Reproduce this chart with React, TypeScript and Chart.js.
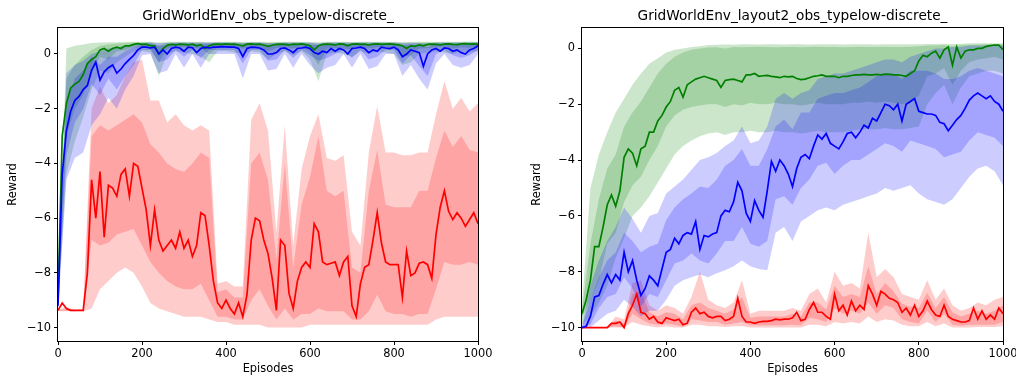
import React, { useEffect, useRef } from "react";
import { Chart, registerables } from "chart.js";

Chart.register(...registerables);
Chart.defaults.font.family = "'DejaVu Sans', sans-serif";
Chart.defaults.color = "#000";

// ---------- data ----------
const MEAN_STEP = 10; // episodes between mean samples
const BAND_STEP = 20; // episodes between band samples
const X_MIN = 0;
const X_MAX = 1000;
const X_TICK_STEP = 200;
const Y_TICK_STEP = 2;

const TITLE_LEFT = "GridWorldEnv_obs_typelow-discrete_";
const TITLE_RIGHT = "GridWorldEnv_layout2_obs_typelow-discrete_";
const X_LABEL = "Episodes";
const Y_LABEL = "Reward";

// Left panel: red series
const leftRedMean = [
  -9.37, -9.1, -9.3, -9.37, -9.37, -9.37, -9.37, -8.0, -4.6, -6.0,
  -4.3, -6.7, -4.8, -4.9, -5.2, -4.4, -4.2, -5.2, -4.0, -4.1,
  -4.9, -5.7, -7.0, -5.7, -6.8, -7.2, -7.0, -6.8, -7.1, -6.5,
  -7.1, -6.8, -7.4, -7.0, -5.8, -5.9, -7.0, -8.3, -9.1, -9.3,
  -9.0, -9.3, -9.5, -9.1, -9.6, -8.8, -6.8, -6.0, -6.1, -6.8,
  -7.3, -8.2, -9.37, -6.8, -7.0, -8.75, -9.3, -8.3, -7.8, -7.6,
  -7.8, -6.2, -6.5, -7.6, -7.7, -7.65, -7.6, -8.1, -7.6, -7.4,
  -9.2, -9.6, -8.4, -7.8, -7.7, -6.8, -5.8, -6.9, -7.6, -7.7,
  -7.7, -7.7, -8.9, -7.2, -8.1, -8.0, -7.65, -7.6, -7.7, -8.2,
  -6.6, -5.6, -5.0, -5.75, -6.05, -5.8, -6.0, -6.3, -6.05, -5.8,
  -6.2,
];
const leftRedOuterUpper = [
  -9.35, -9.25, -9.35, -9.35, -2.0, -1.2, -1.8, -1.5, -0.8, -0.3,
  -0.2, -1.7, -1.7, -2.5, -2.2, -2.6, -2.8, -2.6, -2.8, -8.4,
  -8.3, -8.5, -8.5, -2.4, -1.8, -2.8, -6.5, -2.6, -7.0, -4.2,
  -3.0, -2.2, -3.8, -3.9, -3.7, -6.5, -7.0, -3.6, -1.9, -3.6,
  -3.6, -3.7, -3.7, -3.6, -3.6, -2.2, -1.0, -2.0, -1.6, -2.1,
  -1.8,
];
const leftRedInnerUpper = [
  -9.36, -9.32, -9.36, -9.36, -3.0, -2.6, -2.8, -2.6, -2.4, -2.2,
  -2.5, -3.3, -3.6, -4.0, -4.2, -4.3, -4.0, -3.6, -3.8, -8.7,
  -8.6, -8.9, -8.9, -4.0, -3.6, -4.6, -7.5, -4.0, -7.8, -5.5,
  -4.5, -3.0, -5.0, -5.2, -5.0, -7.8, -8.0, -5.0, -3.5, -5.5,
  -5.6, -5.6, -5.6, -5.0, -5.0, -3.8, -2.8, -3.4, -3.0, -3.5,
  -3.6,
];
const leftRedInnerLower = [
  -9.38, -9.38, -9.38, -9.38, -6.8, -7.0, -6.9, -6.6, -6.5, -6.4,
  -7.0, -7.6, -8.0, -8.3, -8.5, -8.6, -8.6, -8.4, -9.0, -9.6,
  -9.6, -9.7, -9.7, -9.0, -8.6, -9.2, -9.7, -9.3, -9.7, -9.5,
  -9.5, -9.3, -9.4, -9.4, -9.4, -9.7, -9.7, -9.4, -8.8, -9.4,
  -9.5, -9.5, -9.6, -9.5, -9.5, -8.6, -7.6, -7.7, -7.7, -7.6,
  -7.7,
];
const leftRedOuterLower = [
  -9.4, -9.4, -9.4, -9.4, -9.3, -8.6, -8.3, -8.0, -7.8, -8.0,
  -8.5, -9.1, -9.3, -9.4, -9.5, -9.6, -9.6, -9.6, -9.7, -9.8,
  -9.8, -9.9, -9.9, -9.9, -9.9, -10.0, -10.0, -10.0, -10.0, -10.0,
  -9.9, -9.9, -9.9, -9.9, -9.9, -9.9, -9.9, -9.9, -9.9, -9.9,
  -9.9, -9.9, -9.9, -9.9, -9.9, -9.7, -9.6, -9.6, -9.6, -9.6,
  -9.6,
];

// Left panel: green series
const leftGreenMean = [
  -9.0, -3.0, -1.8, -1.25, -1.1, -1.0, -0.75, -0.35, -0.2, -0.1,
  0.15, 0.2, 0.1, 0.2, 0.25, 0.2, 0.3, 0.3, 0.35, 0.38,
  0.35, 0.36, 0.3, 0.3, 0.0, 0.2, 0.32, 0.35, 0.33, 0.36,
  0.35, 0.33, 0.36, 0.3, 0.34, 0.2, 0.3, 0.35, 0.36, 0.35,
  0.37, 0.35, 0.36, 0.33, 0.3, 0.36, 0.37, 0.35, 0.36, 0.33,
  0.28, 0.32, 0.35, 0.36, 0.35, 0.33, 0.36, 0.35, 0.37, 0.34,
  0.3, 0.15, 0.3, 0.35, 0.36, 0.35, 0.33, 0.37, 0.36, 0.3,
  0.36, 0.37, 0.35, 0.36, 0.33, 0.36, 0.37, 0.35, 0.36, 0.37,
  0.35, 0.33, 0.3, 0.2, 0.3, 0.28, 0.33, 0.3, 0.35, 0.36,
  0.35, 0.33, 0.36, 0.37, 0.35, 0.34, 0.37, 0.38, 0.36, 0.37,
  0.35,
];
const leftGreenOuterUpper = [
  -8.8, 0.2, 0.3, 0.35, 0.4, 0.42, 0.43, 0.43, 0.44, 0.45,
  0.45, 0.45, 0.42, 0.45, 0.45, 0.45, 0.44, 0.45, 0.44, 0.45,
  0.45, 0.45, 0.44, 0.45, 0.45, 0.44, 0.45, 0.45, 0.45, 0.45,
  0.44, 0.43, 0.45, 0.45, 0.45, 0.44, 0.45, 0.45, 0.45, 0.45,
  0.45, 0.44, 0.44, 0.45, 0.45, 0.45, 0.45, 0.45, 0.45, 0.46,
  0.45,
];
const leftGreenInnerUpper = [
  -8.9, -0.9, -0.4, -0.1, 0.15, 0.3, 0.35, 0.38, 0.4, 0.42,
  0.42, 0.42, 0.3, 0.42, 0.42, 0.42, 0.41, 0.42, 0.38, 0.42,
  0.42, 0.42, 0.41, 0.42, 0.42, 0.4, 0.42, 0.42, 0.42, 0.42,
  0.4, 0.35, 0.42, 0.42, 0.42, 0.41, 0.42, 0.42, 0.42, 0.42,
  0.42, 0.38, 0.38, 0.42, 0.42, 0.42, 0.42, 0.42, 0.42, 0.43,
  0.42,
];
const leftGreenInnerLower = [
  -9.1, -3.0, -2.0, -1.5, -0.6, -0.1, -0.2, 0.1, 0.15, 0.25,
  0.25, 0.2, -0.3, 0.2, 0.25, 0.25, 0.22, 0.2, 0.0, 0.25,
  0.25, 0.25, 0.2, 0.25, 0.25, 0.1, 0.22, 0.25, 0.2, 0.25,
  0.1, -0.4, 0.2, 0.22, 0.2, 0.15, 0.25, 0.2, 0.25, 0.25,
  0.22, -0.1, -0.05, 0.2, 0.22, 0.25, 0.25, 0.2, 0.25, 0.22,
  0.25,
];
const leftGreenOuterLower = [
  -9.3, -4.4, -3.2, -2.3, -1.3, -0.6, -0.7, -0.3, -0.1, 0.1,
  0.1, 0.05, -0.8, 0.0, 0.1, 0.05, 0.0, -0.1, -0.3, 0.1,
  0.1, 0.05, 0.0, 0.1, 0.05, -0.2, 0.0, 0.1, -0.05, 0.1,
  -0.2, -1.0, 0.0, 0.05, 0.0, -0.1, 0.1, 0.0, 0.1, 0.05,
  0.0, -0.4, -0.3, 0.0, 0.05, 0.1, 0.05, 0.0, 0.1, 0.05,
  0.1,
];

// Left panel: blue series
const leftBlueMean = [
  -9.2, -4.4, -2.8, -2.1, -1.7, -1.55, -1.3, -1.15, -0.6, -0.3,
  -0.95, -0.65, -0.5, -0.4, -0.7, -0.55, -0.35, -0.2, -0.05, 0.15,
  0.25, 0.25, 0.22, 0.25, 0.0, 0.15, 0.0, 0.2, 0.25, 0.22,
  0.1, 0.25, 0.23, 0.05, 0.2, 0.25, 0.22, 0.25, 0.25, 0.27,
  0.26, 0.25, 0.25, 0.2, -0.1, 0.2, 0.25, 0.24, 0.22, 0.15,
  0.0, 0.0, 0.05, 0.2, 0.22, 0.15, 0.05, 0.2, 0.22, 0.25,
  0.2, 0.05, 0.0, 0.1, 0.05, 0.2, 0.1, 0.2, 0.15, 0.0,
  0.2, 0.22, 0.25, 0.2, 0.05, 0.15, 0.1, 0.25, 0.22, 0.2,
  0.25, 0.15, -0.1, 0.0, 0.15, 0.1, 0.05, -0.45, 0.0, 0.15,
  0.2, 0.1, 0.22, 0.2, 0.1, 0.15, 0.05, 0.0, 0.15, 0.2,
  0.3,
];
const leftBlueOuterUpper = [
  -9.0, -0.7, -0.4, -0.25, 0.0, 0.1, 0.2, 0.25, 0.3, 0.35,
  0.4, 0.42, 0.4, 0.4, 0.42, 0.42, 0.42, 0.42, 0.42, 0.42,
  0.42, 0.42, 0.4, 0.42, 0.42, 0.4, 0.4, 0.42, 0.42, 0.42,
  0.42, 0.4, 0.42, 0.42, 0.42, 0.42, 0.42, 0.42, 0.42, 0.42,
  0.42, 0.4, 0.42, 0.4, 0.38, 0.42, 0.42, 0.42, 0.42, 0.42,
  0.44,
];
const leftBlueInnerUpper = [
  -9.1, -1.8, -0.9, -0.6, -0.1, -0.4, -0.1, -0.1, 0.1, 0.25,
  0.35, 0.38, 0.3, 0.32, 0.38, 0.36, 0.38, 0.35, 0.38, 0.38,
  0.38, 0.38, 0.3, 0.38, 0.38, 0.3, 0.32, 0.38, 0.35, 0.38,
  0.35, 0.32, 0.34, 0.36, 0.38, 0.35, 0.38, 0.34, 0.35, 0.38,
  0.38, 0.3, 0.36, 0.3, 0.25, 0.36, 0.38, 0.36, 0.35, 0.36,
  0.4,
];
const leftBlueInnerLower = [
  -9.3, -3.7, -2.5, -2.0, -1.1, -1.5, -0.9, -1.3, -0.8, -0.4,
  0.15, 0.15, -0.3, -0.2, 0.15, -0.1, 0.15, -0.15, 0.15, 0.15,
  0.15, 0.15, -0.35, 0.15, 0.15, -0.25, -0.2, 0.15, -0.15, 0.15,
  -0.05, -0.25, -0.15, 0.0, 0.15, -0.15, 0.15, -0.2, -0.1, 0.15,
  0.15, -0.35, -0.05, -0.45, -0.8, 0.0, 0.15, -0.05, -0.15, -0.05,
  0.15,
];
const leftBlueOuterLower = [
  -9.4, -4.6, -3.8, -3.6, -2.6, -2.2, -1.6, -2.0, -1.3, -0.8,
  -0.05, 0.0, -0.7, -0.6, 0.0, -0.5, 0.0, -0.5, 0.0, 0.0,
  0.0, 0.0, -0.9, 0.0, 0.0, -0.6, -0.55, 0.0, -0.5, 0.0,
  -0.4, -0.7, -0.5, -0.4, 0.0, -0.5, 0.0, -0.55, -0.45, 0.0,
  0.0, -0.8, -0.4, -0.9, -1.3, -0.35, 0.0, -0.4, -0.5, -0.4,
  0.0,
];

// Right panel: red series
const rightRedMean = [
  -10.0, -10.0, -10.0, -10.0, -10.0, -10.0, -10.0, -9.85, -9.85, -9.8,
  -10.0, -9.5, -9.2, -8.8, -9.45, -9.5, -9.7, -9.6, -9.8, -9.85,
  -9.65, -9.7, -9.75, -9.7, -9.9, -9.85, -9.45, -9.3, -9.5, -9.45,
  -9.6, -9.65, -9.6, -9.6, -9.75, -9.7, -9.6, -8.95, -9.6, -9.8,
  -9.8, -9.85, -9.8, -9.78, -9.78, -9.75, -9.7, -9.72, -9.7, -9.7,
  -9.65, -9.45, -9.75, -9.7, -9.35, -9.1, -9.45, -9.45, -9.6, -9.7,
  -8.8, -9.4, -9.2, -9.55, -9.05, -9.4, -9.2, -9.35, -8.5, -8.8,
  -9.2, -8.7, -8.8, -8.95, -9.0, -9.1, -9.45, -9.3, -9.55, -9.2,
  -9.6, -9.4, -9.05, -9.35, -9.55, -9.6, -9.2, -9.6, -9.7, -9.75,
  -9.8, -9.8, -9.75, -9.3, -9.7, -9.4, -9.7, -9.55, -9.7, -9.3,
  -9.5,
];
const rightRedOuterUpper = [
  -9.98, -9.98, -9.98, -9.98, -9.6, -9.7, -8.4, -8.3, -9.2, -9.4,
  -9.2, -9.3, -9.5, -8.9, -8.0, -9.0, -9.2, -9.3, -9.1, -8.3,
  -9.5, -9.4, -9.4, -9.4, -9.4, -9.3, -9.4, -8.8, -8.6, -9.1,
  -8.0, -8.5, -8.4, -8.6, -6.6, -8.2, -7.9, -8.2, -8.8, -8.9,
  -9.0, -8.3, -9.0, -8.6, -9.2, -9.4, -9.3, -9.1, -9.2, -9.0,
  -8.9,
];
const rightRedInnerUpper = [
  -9.99, -9.99, -9.99, -9.99, -9.75, -9.85, -8.8, -8.7, -9.45, -9.6,
  -9.45, -9.5, -9.7, -9.2, -9.1, -9.3, -9.4, -9.5, -9.35, -8.9,
  -9.65, -9.6, -9.6, -9.6, -9.6, -9.5, -9.6, -9.1, -9.1, -9.35,
  -8.5, -8.9, -8.8, -8.9, -7.8, -8.8, -8.4, -8.7, -9.15, -9.25,
  -9.3, -8.75, -9.3, -8.9, -9.45, -9.6, -9.5, -9.4, -9.5, -9.4,
  -9.2,
];
const rightRedInnerLower = [
  -10.0, -10.0, -10.0, -10.0, -9.95, -10.0, -9.5, -9.7, -9.85, -9.9,
  -9.85, -9.9, -9.97, -9.7, -9.75, -9.8, -9.8, -9.9, -9.85, -9.8,
  -9.92, -9.92, -9.92, -9.92, -9.92, -9.9, -9.92, -9.65, -9.7, -9.8,
  -9.3, -9.5, -9.4, -9.5, -9.1, -9.5, -9.2, -9.3, -9.7, -9.8,
  -9.85, -9.4, -9.8, -9.5, -9.9, -9.93, -9.9, -9.9, -9.9, -9.9,
  -9.8,
];
const rightRedOuterLower = [
  -10.0, -10.0, -10.0, -10.0, -10.0, -10.0, -9.8, -9.9, -9.95, -10.0,
  -9.95, -10.0, -10.0, -9.9, -9.9, -9.95, -9.95, -9.98, -9.95, -9.95,
  -10.0, -10.0, -10.0, -10.0, -10.0, -10.0, -10.0, -9.9, -9.9, -9.95,
  -9.8, -9.85, -9.8, -9.85, -9.6, -9.8, -9.7, -9.75, -9.9, -9.95,
  -9.95, -9.8, -9.95, -9.85, -10.0, -10.0, -10.0, -9.98, -9.98, -9.98,
  -9.95,
];

// Right panel: green series
const rightGreenMean = [
  -9.5, -9.0, -8.3, -7.1, -7.1, -6.4, -5.6, -5.25, -5.65, -5.1,
  -3.9, -3.6, -3.75, -4.2, -3.6, -3.5, -3.0, -3.0, -2.6, -2.4,
  -2.1, -1.9, -1.5, -1.4, -1.75, -1.3, -1.2, -1.1, -1.05, -1.0,
  -1.05, -1.1, -1.15, -1.4, -1.15, -1.12, -1.1, -1.15, -1.2, -0.95,
  -0.95, -0.9, -1.0, -0.98, -0.97, -1.0, -1.02, -1.05, -1.0, -1.02,
  -1.0, -1.08, -1.12, -1.1, -1.05, -1.0, -0.98, -0.95, -1.0, -1.0,
  -1.0, -1.05, -1.0, -1.0, -0.97, -0.95, -0.95, -0.93, -0.95, -0.95,
  -0.93, -0.95, -0.92, -0.93, -0.95, -0.95, -0.97, -1.0, -0.9, -0.8,
  -0.45, -0.25, -0.3, -0.17, -0.1, -0.35, -0.05, 0.05, -0.6, 0.05,
  -0.35, -0.1, -0.05, -0.05, 0.0, 0.0, 0.07, 0.1, 0.12, 0.12,
  -0.05,
];
const rightGreenOuterUpper = [
  -9.2, -5.0, -3.8, -3.0, -2.3, -1.8, -1.3, -0.9, -0.55, -0.35,
  -0.15, -0.05, 0.0, 0.05, 0.08, 0.12, 0.13, 0.14, 0.13, 0.15,
  0.15, 0.14, 0.15, 0.15, 0.14, 0.15, 0.15, 0.14, 0.15, 0.15,
  0.15, 0.14, 0.15, 0.15, 0.15, 0.14, 0.15, 0.15, 0.15, 0.15,
  0.15, 0.16, 0.16, 0.17, 0.16, 0.17, 0.18, 0.18, 0.18, 0.18,
  0.18,
];
const rightGreenInnerUpper = [
  -9.35, -7.0, -5.4, -4.3, -3.8, -2.8, -2.3, -1.9, -1.4, -0.9,
  -0.55, -0.3, -0.15, -0.05, 0.0, 0.03, 0.04, 0.0, 0.05, 0.04,
  0.05, 0.06, 0.05, 0.04, 0.05, 0.05, 0.04, 0.05, 0.06, 0.05,
  0.05, 0.04, 0.05, 0.06, 0.05, 0.05, 0.06, 0.05, 0.05, 0.06,
  0.08, 0.1, 0.1, 0.12, 0.08, 0.12, 0.13, 0.14, 0.15, 0.15,
  0.15,
];
const rightGreenInnerLower = [
  -9.65, -9.0, -8.3, -7.0, -6.6, -5.5, -4.9, -4.6, -4.0, -3.5,
  -2.8, -2.4, -2.2, -2.1, -2.05, -2.0, -2.0, -2.1, -2.0, -2.05,
  -1.95, -2.0, -2.0, -1.95, -2.0, -2.0, -2.05, -2.0, -1.95, -2.0,
  -2.0, -2.0, -1.95, -1.95, -1.9, -1.95, -1.9, -1.95, -2.0, -1.9,
  -1.7, -1.0, -0.9, -0.7, -1.3, -0.8, -0.5, -0.4, -0.35, -0.3,
  -0.4,
];
const rightGreenOuterLower = [
  -9.9, -9.6, -9.1, -8.5, -7.5, -6.8, -6.0, -5.7, -5.3, -4.8,
  -4.3, -3.8, -3.5, -3.3, -3.15, -3.05, -3.0, -3.1, -3.0, -3.0,
  -2.95, -3.0, -3.0, -2.95, -3.0, -3.0, -3.05, -3.0, -2.95, -3.0,
  -3.0, -3.0, -2.95, -2.9, -2.9, -2.9, -2.85, -2.9, -2.9, -2.85,
  -2.8, -2.0, -1.6, -1.3, -2.0, -1.4, -1.0, -0.9, -0.8, -0.8,
  -0.9,
];

// Right panel: blue series
const rightBlueMean = [
  -10.0, -9.95, -9.6, -8.9, -8.85, -8.45, -8.1, -8.4, -8.1, -8.3,
  -7.3, -8.0, -7.6, -8.3, -8.85, -8.6, -8.15, -8.3, -8.5, -7.9,
  -7.3, -7.2, -6.8, -7.0, -6.7, -6.6, -6.65, -6.2, -7.2, -6.7,
  -6.75, -6.65, -6.6, -6.0, -5.8, -5.85, -5.5, -4.8, -5.1, -5.9,
  -6.2, -5.45, -5.8, -6.05, -5.1, -4.05, -4.4, -4.0, -4.2, -4.5,
  -4.95, -4.3, -3.9, -3.8, -3.95, -3.5, -3.1, -3.25, -3.05, -3.4,
  -3.5, -3.6, -3.35, -3.05, -3.0, -3.2, -3.0, -2.75, -2.85, -2.5,
  -2.6, -2.3, -2.0, -2.05, -2.2, -2.0, -2.6, -2.0, -1.9, -1.8,
  -2.25, -2.3, -2.35, -2.35, -2.4, -2.65, -2.7, -2.95, -2.75, -2.55,
  -2.4, -2.15, -1.85, -1.7, -1.6, -1.7, -1.8, -1.7, -1.9, -2.0,
  -2.25,
];
const rightBlueOuterUpper = [
  -9.95, -8.5, -7.6, -6.9, -6.4, -5.7, -6.1, -6.6, -6.0, -5.9,
  -5.2, -4.95, -4.7, -4.35, -4.0, -3.9, -3.75, -3.5, -3.3, -2.8,
  -3.4, -3.3, -2.8, -1.8, -1.6, -1.8, -1.6, -1.5, -1.1, -1.0,
  -0.9, -0.9, -0.8, -0.7, -0.6, -0.5, -0.4, -0.4, -0.5, -0.3,
  -0.2, -0.1, 0.0, 0.0, 0.05, 0.05, 0.1, 0.1, 0.1, 0.1,
  0.1,
];
const rightBlueInnerUpper = [
  -9.97, -9.0, -8.2, -7.6, -7.3, -6.6, -6.9, -7.3, -7.1, -7.0,
  -6.15, -5.7, -5.4, -5.2, -4.95, -5.0, -4.7, -4.2, -4.0, -3.6,
  -4.2, -4.2, -3.6, -2.8, -2.55, -2.9, -2.3, -2.3, -1.8, -1.7,
  -1.6, -1.6, -1.5, -1.4, -1.2, -1.0, -0.9, -0.9, -1.1, -0.8,
  -0.8, -0.8, -0.9, -1.1, -1.1, -1.0, -0.8, -0.7, -0.8, -0.9,
  -1.0,
];
const rightBlueInnerLower = [
  -10.0, -9.9, -9.3, -8.9, -8.8, -8.2, -8.6, -9.25, -8.8, -8.9,
  -8.3, -7.7, -7.6, -7.35, -7.6, -7.7, -7.35, -6.9, -6.9, -6.4,
  -7.0, -7.1, -6.9, -5.4, -5.3, -5.6, -5.0, -4.7, -4.2, -4.1,
  -4.5, -4.2, -4.0, -4.0, -3.8, -3.6, -3.4, -3.5, -3.7, -3.3,
  -3.4, -3.5, -3.6, -3.9, -3.8, -3.7, -3.3, -3.0, -3.1, -3.2,
  -3.5,
];
const rightBlueOuterLower = [
  -10.0, -10.0, -9.75, -9.5, -9.4, -9.0, -9.25, -9.6, -9.4, -9.4,
  -9.0, -8.5, -8.3, -8.2, -8.1, -8.2, -8.05, -7.95, -7.8, -7.6,
  -7.8, -7.9, -7.95, -6.6, -6.4, -6.9, -6.2, -6.0, -5.8, -5.7,
  -5.8, -5.6, -5.5, -5.4, -5.3, -5.2, -5.0, -5.1, -5.0, -4.9,
  -5.2, -5.4, -5.5, -5.6, -5.4, -5.0, -4.6, -4.3, -4.2, -4.4,
  -4.9,
];

// ---------- styling ----------
const RED = "#ff0000";
const GREEN = "#008000";
const BLUE = "#0000ff";
const RED_FILL = "rgba(255,0,0,0.2)";
const GREEN_FILL = "rgba(0,128,0,0.2)";
const BLUE_FILL = "rgba(0,0,255,0.2)";
const TICK_FONT = 11.4;
const TITLE_FONT = 13.7;

type Series = {
  color: string;
  fill: string;
  mean: number[];
  outerUpper: number[];
  innerUpper: number[];
  innerLower: number[];
  outerLower: number[];
};

function toPoints(values: number[], step: number) {
  return values.map((y, i) => ({ x: i * step, y }));
}

function buildDatasets(series: Series[]) {
  const ds: any[] = [];
  const bandBase = {
    borderWidth: 0,
    borderColor: "transparent",
    pointRadius: 0,
    tension: 0,
  };
  series.forEach((s) => {
    ds.push({ ...bandBase, data: toPoints(s.outerLower, BAND_STEP), fill: false });
    ds.push({ ...bandBase, data: toPoints(s.outerUpper, BAND_STEP), fill: "-1", backgroundColor: s.fill });
    ds.push({ ...bandBase, data: toPoints(s.innerLower, BAND_STEP), fill: false });
    ds.push({ ...bandBase, data: toPoints(s.innerUpper, BAND_STEP), fill: "-1", backgroundColor: s.fill });
  });
  series.forEach((s) => {
    ds.push({
      data: toPoints(s.mean, MEAN_STEP),
      borderColor: s.color,
      borderWidth: 1.7,
      pointRadius: 0,
      fill: false,
      tension: 0,
    });
  });
  const n = ds.length;
  ds.forEach((d, i) => {
    d.order = n - i;
  });
  return ds;
}

const framePlugin = {
  id: "frame",
  afterDraw(chart: any) {
    const { ctx, chartArea: a } = chart;
    ctx.save();
    ctx.strokeStyle = "#000";
    ctx.lineWidth = 1;
    ctx.strokeRect(Math.round(a.left) - 0.5, Math.round(a.top) - 0.5, Math.round(a.right - a.left) + 1, Math.round(a.bottom - a.top) + 1);
    ctx.restore();
  },
};

const fmt = (v: any) => {
  const n = Number(v);
  return n < 0 ? "\u2212" + Math.abs(n) : String(n);
};

type Panel = {
  title: string;
  series: Series[];
  yMin: number;
  yMax: number;
  padLeft: number;
  yAxisWidth: number;
  padRight: number;
};

function makeConfig(p: Panel): any {
  return {
    type: "line",
    data: { datasets: buildDatasets(p.series) },
    plugins: [framePlugin],
    options: {
      animation: false,
      responsive: false,
      devicePixelRatio: 1,
      events: [],
      layout: { padding: { left: p.padLeft, right: p.padRight, top: 0, bottom: 0 } },
      plugins: {
        legend: { display: false },
        tooltip: { enabled: false },
        title: {
          display: true,
          text: p.title,
          fullSize: false,
          color: "#000",
          font: { size: TITLE_FONT, weight: "normal", lineHeight: "16px" },
          padding: { top: 8, bottom: 4 },
        },
      },
      scales: {
        x: {
          type: "linear",
          min: X_MIN,
          max: X_MAX,
          border: { display: false },
          grid: { drawOnChartArea: false, drawTicks: true, tickLength: 4, color: "#000", lineWidth: 1 },
          ticks: {
            stepSize: X_TICK_STEP,
            includeBounds: false,
            autoSkip: false,
            maxRotation: 0,
            padding: 2,
            color: "#000",
            font: { size: TICK_FONT },
            callback: fmt,
          },
          title: { display: true, text: X_LABEL, color: "#000", font: { size: TICK_FONT, lineHeight: "13px" }, padding: { top: 1, bottom: 1 } },
          afterFit(scale: any) {
            scale.height = 36;
            scale.paddingLeft = 0;
            scale.paddingRight = 0;
          },
        },
        y: {
          type: "linear",
          min: p.yMin,
          max: p.yMax,
          border: { display: false },
          grid: { drawOnChartArea: false, drawTicks: true, tickLength: 4, color: "#000", lineWidth: 1 },
          ticks: {
            stepSize: Y_TICK_STEP,
            includeBounds: false,
            autoSkip: false,
            padding: 3,
            color: "#000",
            font: { size: TICK_FONT },
            callback: fmt,
          },
          title: { display: true, text: Y_LABEL, color: "#000", font: { size: TICK_FONT, lineHeight: "13px" }, padding: { top: 1, bottom: 1 } },
          afterFit(scale: any) {
            scale.width = p.yAxisWidth;
            scale.paddingTop = 0;
            scale.paddingBottom = 0;
          },
        },
      },
    },
  };
}

const leftPanel: Panel = {
  title: TITLE_LEFT,
  yMin: -10.49,
  yMax: 0.95,
  padLeft: 6,
  yAxisWidth: 52,
  padRight: 30,
  series: [
    { color: RED, fill: RED_FILL, mean: leftRedMean, outerUpper: leftRedOuterUpper, innerUpper: leftRedInnerUpper, innerLower: leftRedInnerLower, outerLower: leftRedOuterLower },
    { color: GREEN, fill: GREEN_FILL, mean: leftGreenMean, outerUpper: leftGreenOuterUpper, innerUpper: leftGreenInnerUpper, innerLower: leftGreenInnerLower, outerLower: leftGreenOuterLower },
    { color: BLUE, fill: BLUE_FILL, mean: leftBlueMean, outerUpper: leftBlueOuterUpper, innerUpper: leftBlueInnerUpper, innerLower: leftBlueInnerLower, outerLower: leftBlueOuterLower },
  ],
};

const rightPanel: Panel = {
  title: TITLE_RIGHT,
  yMin: -10.48,
  yMax: 0.73,
  padLeft: 22,
  yAxisWidth: 52,
  padRight: 13,
  series: [
    { color: RED, fill: RED_FILL, mean: rightRedMean, outerUpper: rightRedOuterUpper, innerUpper: rightRedInnerUpper, innerLower: rightRedInnerLower, outerLower: rightRedOuterLower },
    { color: GREEN, fill: GREEN_FILL, mean: rightGreenMean, outerUpper: rightGreenOuterUpper, innerUpper: rightGreenInnerUpper, innerLower: rightGreenInnerLower, outerLower: rightGreenOuterLower },
    { color: BLUE, fill: BLUE_FILL, mean: rightBlueMean, outerUpper: rightBlueOuterUpper, innerUpper: rightBlueInnerUpper, innerLower: rightBlueInnerLower, outerLower: rightBlueOuterLower },
  ],
};

function ChartPanel({ panel }: { panel: Panel }) {
  const ref = useRef<HTMLCanvasElement | null>(null);
  useEffect(() => {
    if (!ref.current) return;
    const chart = new Chart(ref.current, makeConfig(panel));
    return () => chart.destroy();
  }, [panel]);
  return <canvas ref={ref} width={508} height={377} style={{ display: "block", width: 508, height: 377 }} />;
}

export default function App() {
  return (
    <div
      style={{
        position: "absolute",
        left: 0,
        top: 0,
        width: 1016,
        height: 377,
        display: "flex",
        background: "#fff",
        overflow: "hidden",
      }}
    >
      <ChartPanel panel={leftPanel} />
      <ChartPanel panel={rightPanel} />
    </div>
  );
}
